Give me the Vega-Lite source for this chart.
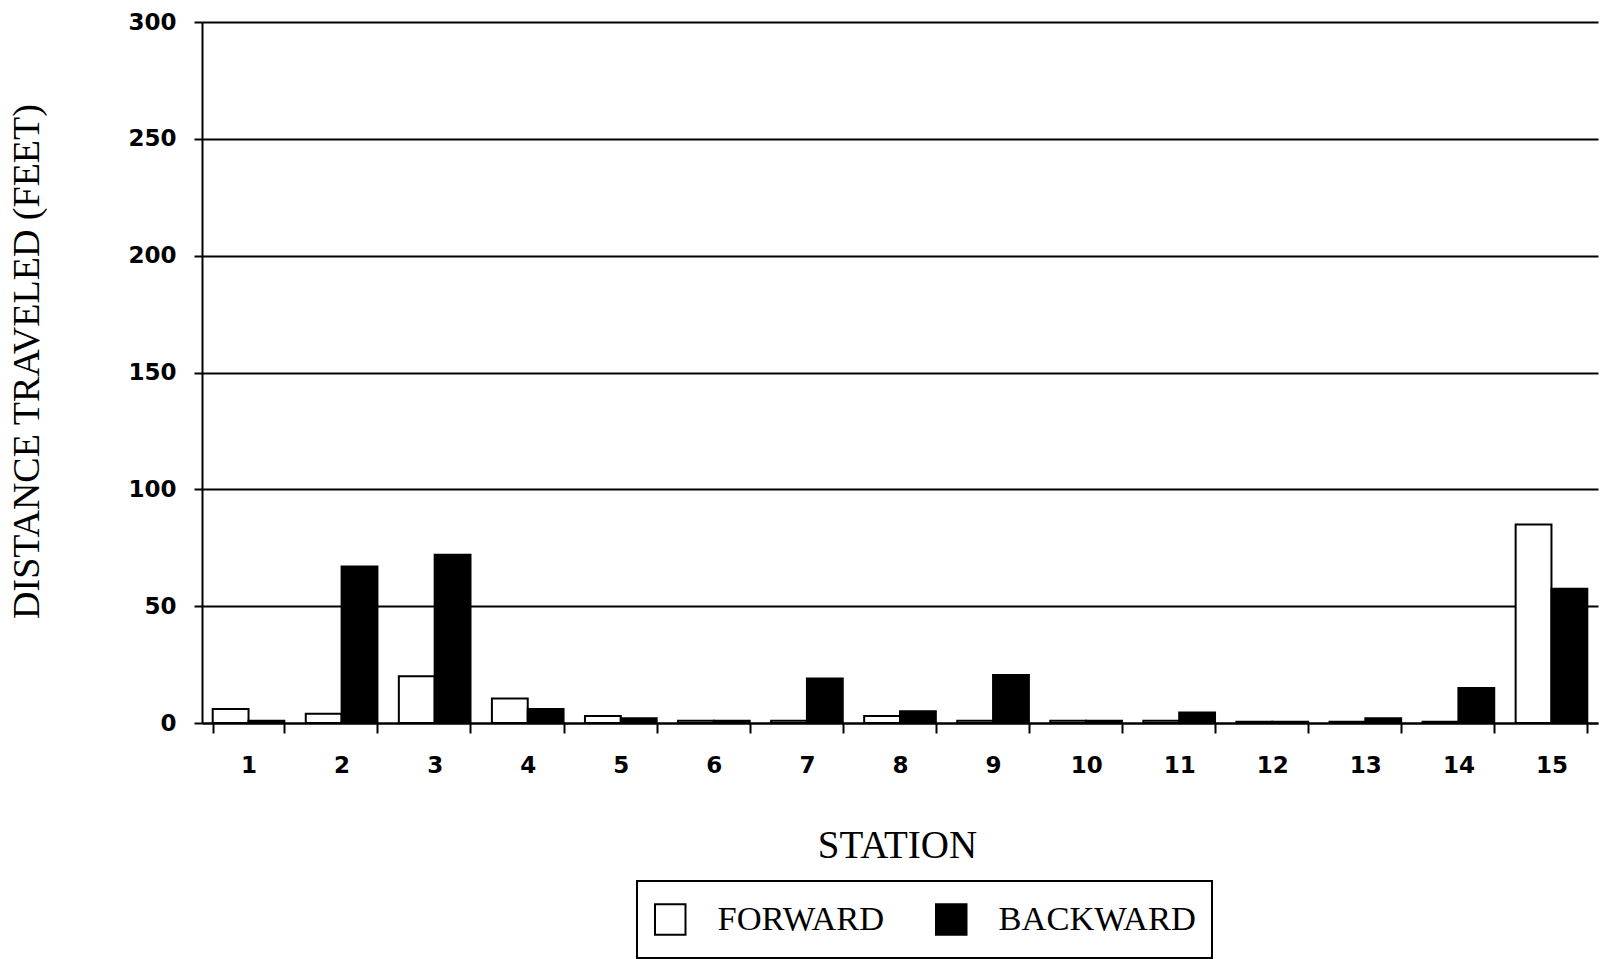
{
  "$schema": "https://vega.github.io/schema/vega-lite/v6.json",
  "width": 1396,
  "height": 701,
  "autosize": {"type": "none"},
  "padding": {"left": 202, "top": 22, "right": 8, "bottom": 236},
  "background": "white",
  "config": {"view": {"stroke": null}},
  "data": {
    "values": [
      {"station": 1, "direction": "FORWARD", "distance": 6},
      {"station": 1, "direction": "BACKWARD", "distance": 1},
      {"station": 2, "direction": "FORWARD", "distance": 4},
      {"station": 2, "direction": "BACKWARD", "distance": 67},
      {"station": 3, "direction": "FORWARD", "distance": 20},
      {"station": 3, "direction": "BACKWARD", "distance": 72},
      {"station": 4, "direction": "FORWARD", "distance": 10.5},
      {"station": 4, "direction": "BACKWARD", "distance": 6},
      {"station": 5, "direction": "FORWARD", "distance": 3},
      {"station": 5, "direction": "BACKWARD", "distance": 2},
      {"station": 6, "direction": "FORWARD", "distance": 1},
      {"station": 6, "direction": "BACKWARD", "distance": 1},
      {"station": 7, "direction": "FORWARD", "distance": 1},
      {"station": 7, "direction": "BACKWARD", "distance": 19},
      {"station": 8, "direction": "FORWARD", "distance": 3},
      {"station": 8, "direction": "BACKWARD", "distance": 5},
      {"station": 9, "direction": "FORWARD", "distance": 1},
      {"station": 9, "direction": "BACKWARD", "distance": 20.5},
      {"station": 10, "direction": "FORWARD", "distance": 1},
      {"station": 10, "direction": "BACKWARD", "distance": 1},
      {"station": 11, "direction": "FORWARD", "distance": 1},
      {"station": 11, "direction": "BACKWARD", "distance": 4.5},
      {"station": 12, "direction": "FORWARD", "distance": 0.5},
      {"station": 12, "direction": "BACKWARD", "distance": 0.5},
      {"station": 13, "direction": "FORWARD", "distance": 0.5},
      {"station": 13, "direction": "BACKWARD", "distance": 2},
      {"station": 14, "direction": "FORWARD", "distance": 0.5},
      {"station": 14, "direction": "BACKWARD", "distance": 15},
      {"station": 15, "direction": "FORWARD", "distance": 85},
      {"station": 15, "direction": "BACKWARD", "distance": 57.5}
    ]
  },
  "mark": {"type": "bar", "stroke": "black", "strokeWidth": 2},
  "encoding": {
    "x": {
      "field": "station",
      "type": "ordinal",
      "scale": {"paddingInner": 0.23, "paddingOuter": 0.115},
      "axis": {
        "title": "STATION",
        "labelAngle": 0,
        "labelFont": "DejaVu Sans",
        "labelFontWeight": "bold",
        "labelFontSize": 23,
        "labelColor": "black",
        "labelPadding": 21,
        "tickBand": "extent",
        "tickSize": 10,
        "tickWidth": 2,
        "tickColor": "black",
        "domainColor": "black",
        "domainWidth": 2,
        "titleFont": "Liberation Serif",
        "titleFontWeight": "normal",
        "titleFontSize": 39,
        "titleColor": "black",
        "titleX": 695,
        "titleY": 122,
        "titleBaseline": "middle",
        "titleAlign": "center"
      }
    },
    "xOffset": {
      "field": "direction",
      "type": "nominal",
      "scale": {"domain": ["FORWARD", "BACKWARD"], "paddingInner": 0, "paddingOuter": 0}
    },
    "y": {
      "field": "distance",
      "type": "quantitative",
      "scale": {"domain": [0, 300], "nice": false},
      "axis": {
        "title": "DISTANCE TRAVELED (FEET)",
        "values": [0, 50, 100, 150, 200, 250, 300],
        "grid": true,
        "gridColor": "black",
        "gridWidth": 2,
        "gridOpacity": 1,
        "labelFont": "DejaVu Sans",
        "labelFontWeight": "bold",
        "labelFontSize": 23,
        "labelColor": "black",
        "labelPadding": 18,
        "tickSize": 8,
        "tickWidth": 2,
        "tickColor": "black",
        "domainColor": "black",
        "domainWidth": 2,
        "titleFont": "Liberation Serif",
        "titleFontWeight": "normal",
        "titleFontSize": 38,
        "titleColor": "black",
        "titleAngle": -90,
        "titleX": -175,
        "titleY": 339,
        "titleBaseline": "middle",
        "titleAlign": "center"
      }
    },
    "fill": {
      "field": "direction",
      "type": "nominal",
      "scale": {"domain": ["FORWARD", "BACKWARD"], "range": ["#ffffff", "#000000"]},
      "legend": {
        "title": null,
        "orient": "none",
        "direction": "horizontal",
        "legendX": 435,
        "legendY": 859,
        "padding": 16,
        "clipHeight": 45,
        "strokeColor": "black",
        "symbolType": "square",
        "symbolSize": 930,
        "symbolStrokeColor": "black",
        "symbolStrokeWidth": 2,
        "symbolOpacity": 1,
        "labelFont": "Liberation Serif",
        "labelFontSize": 34.5,
        "labelColor": "black",
        "labelOffset": 30,
        "labelLimit": 400,
        "columnPadding": 49,
        "encode": {"legend": {"update": {"strokeWidth": {"value": 2}}}}
      }
    }
  }
}
